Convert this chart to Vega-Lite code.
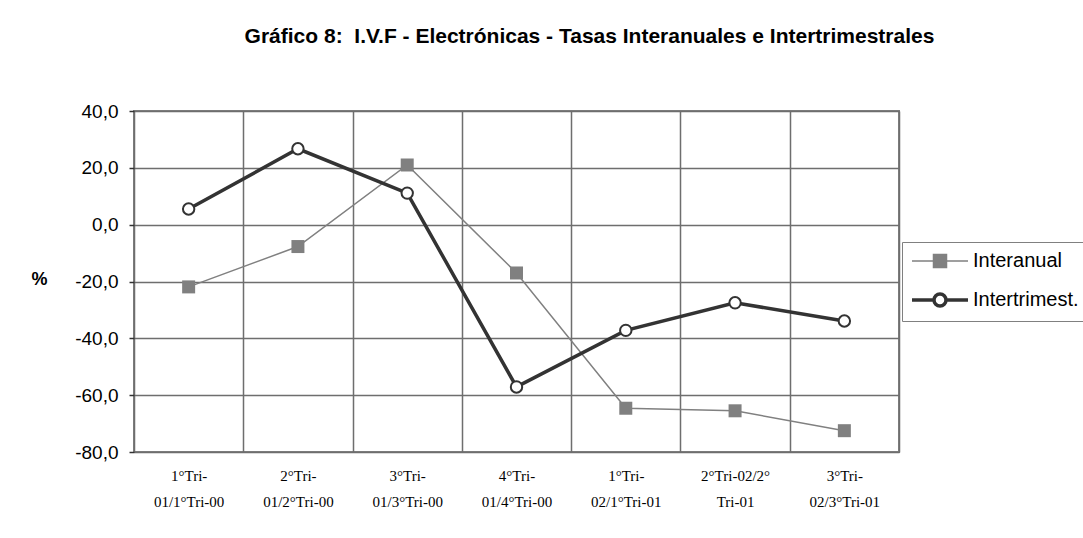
{
  "$schema": "https://vega.github.io/schema/vega-lite/v6.json",
  "width": 765,
  "height": 341,
  "padding": {"left": 30, "top": 26, "right": 5, "bottom": 5},
  "background": "white",
  "title": {
    "text": "Gráfico 8: \u00a0I.V.F - Electrónicas - Tasas Interanuales e Intertrimestrales",
    "font": "Liberation Sans",
    "fontSize": 21,
    "fontWeight": "bold",
    "color": "#000000",
    "anchor": "middle",
    "dx": 73,
    "offset": 55
  },
  "data": {
    "values": [
      {"periodo": "1°Tri-01/1°Tri-00", "serie": "Interanual", "valor": -21.9},
      {"periodo": "2°Tri-01/2°Tri-00", "serie": "Interanual", "valor": -7.7},
      {"periodo": "3°Tri-01/3°Tri-00", "serie": "Interanual", "valor": 21.0},
      {"periodo": "4°Tri-01/4°Tri-00", "serie": "Interanual", "valor": -17.0},
      {"periodo": "1°Tri-02/1°Tri-01", "serie": "Interanual", "valor": -64.6},
      {"periodo": "2°Tri-02/2° Tri-01", "serie": "Interanual", "valor": -65.5},
      {"periodo": "3°Tri-02/3°Tri-01", "serie": "Interanual", "valor": -72.5},
      {"periodo": "1°Tri-01/1°Tri-00", "serie": "Intertrimest.", "valor": 5.5},
      {"periodo": "2°Tri-01/2°Tri-00", "serie": "Intertrimest.", "valor": 26.7},
      {"periodo": "3°Tri-01/3°Tri-00", "serie": "Intertrimest.", "valor": 11.1},
      {"periodo": "4°Tri-01/4°Tri-00", "serie": "Intertrimest.", "valor": -57.1},
      {"periodo": "1°Tri-02/1°Tri-01", "serie": "Intertrimest.", "valor": -37.2},
      {"periodo": "2°Tri-02/2° Tri-01", "serie": "Intertrimest.", "valor": -27.5},
      {"periodo": "3°Tri-02/3°Tri-01", "serie": "Intertrimest.", "valor": -33.9}
    ]
  },
  "encoding": {
    "x": {
      "field": "periodo",
      "type": "nominal",
      "sort": null,
      "scale": {"paddingInner": 0, "paddingOuter": 0},
      "axis": {
        "title": null,
        "labelAngle": 0,
        "tickBand": "extent",
        "ticks": false,
        "domain": false,
        "grid": true,
        "gridColor": "#6e6e6e",
        "gridWidth": 1.5,
        "labelFont": "Liberation Serif",
        "labelFontSize": 15,
        "labelColor": "#000000",
        "labelLineHeight": 26,
        "labelPadding": 16,
        "labelExpr": "indexof(datum.label, ' ') >= 0 ? split(datum.label, ' ') : [slice(datum.label, 0, 6), slice(datum.label, 6)]"
      }
    },
    "y": {
      "field": "valor",
      "type": "quantitative",
      "scale": {"domain": [-80, 40], "nice": false, "zero": false},
      "axis": {
        "values": [-80, -60, -40, -20, 0, 20, 40],
        "format": ".1f",
        "title": "%",
        "titleAngle": 0,
        "titleX": -95,
        "titleY": 168,
        "titleAlign": "center",
        "titleBaseline": "middle",
        "titleFont": "Liberation Sans",
        "titleFontSize": 18,
        "titleFontWeight": "bold",
        "titleColor": "#000000",
        "labelFont": "Liberation Sans",
        "labelFontSize": 19,
        "labelColor": "#000000",
        "labelPadding": 11,
        "tickSize": 5,
        "tickColor": "#333333",
        "tickWidth": 1.5,
        "domain": false,
        "grid": true,
        "gridColor": "#6e6e6e",
        "gridWidth": 1.5
      }
    }
  },
  "layer": [
    {
      "mark": {"type": "line"},
      "encoding": {
        "color": {
          "field": "serie",
          "type": "nominal",
          "scale": {"domain": ["Interanual", "Intertrimest."], "range": ["#808080", "#333333"]},
          "legend": {
            "title": null,
            "orient": "none",
            "legendX": 768,
            "legendY": 131,
            "fillColor": "#ffffff",
            "strokeColor": "#808080",
            "padding": 8,
            "labelFont": "Liberation Sans",
            "labelFontSize": 20,
            "labelColor": "#000000",
            "labelOffset": 39,
            "symbolSize": 400,
            "rowPadding": 16,
            "encode": {
              "symbols": {
                "update": {
                  "shape": {"signal": "datum.value === 'Interanual' ? 'M-1,0L4.6,0M1.15,-0.65H2.45V0.65H1.15Z' : 'M-1,0L1.2,0M2.4,0L4.6,0M1.2,0A0.6,0.6,0,1,1,2.4,0A0.6,0.6,0,1,1,1.2,0Z'"},
                  "fill": {"signal": "datum.value === 'Interanual' ? '#808080' : '#ffffff'"},
                  "stroke": {"signal": "datum.value === 'Interanual' ? '#808080' : '#333333'"},
                  "strokeWidth": {"signal": "datum.value === 'Interanual' ? 1.5 : 3"},
                  "opacity": {"value": 1}
                }
              }
            }
          }
        },
        "strokeWidth": {
          "field": "serie",
          "type": "nominal",
          "scale": {"domain": ["Interanual", "Intertrimest."], "range": [1.5, 3.5]},
          "legend": null
        }
      }
    },
    {
      "transform": [{"filter": "datum.serie === 'Interanual'"}],
      "mark": {"type": "point", "shape": "square", "filled": true, "color": "#808080", "size": 169, "opacity": 1}
    },
    {
      "transform": [{"filter": "datum.serie === 'Intertrimest.'"}],
      "mark": {"type": "point", "shape": "circle", "filled": true, "fill": "#ffffff", "stroke": "#333333", "strokeWidth": 2, "size": 130, "opacity": 1}
    }
  ],
  "config": {
    "locale": {"number": {"decimal": ",", "thousands": ".", "grouping": [3], "currency": ["", " €"], "minus": "-"}},
    "view": {"stroke": "#808080", "strokeWidth": 2}
  }
}
